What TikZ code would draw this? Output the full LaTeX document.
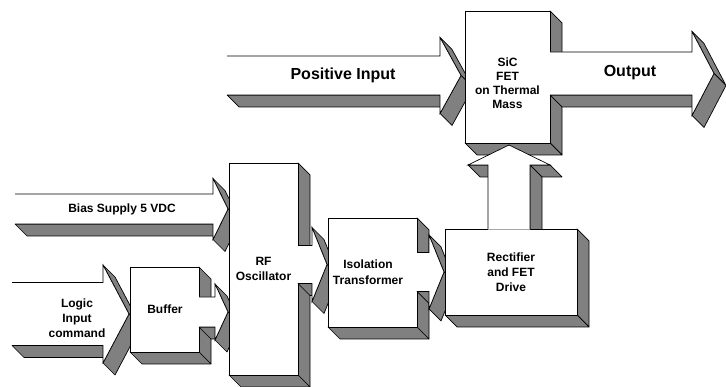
\documentclass[tikz,border=0pt]{standalone}
\usepackage{fontspec}
\setmainfont{Liberation Sans}
\usepackage{xcolor}
\usepackage{tikz}
\usetikzlibrary{calc}

\definecolor{facegray}{RGB}{128,128,128}

\tikzset{
  face/.style={draw=black,fill=facegray,line width=0.7pt,line join=round},
  rim/.style={draw=black,line width=0.7pt,line join=miter},
  lbl/.style={font=\bfseries\fontsize{12}{15}\selectfont,align=center,inner sep=0pt},
  biglbl/.style={font=\bfseries\fontsize{16}{19}\selectfont,inner sep=0pt}
}

\begin{document}
\begin{tikzpicture}[x=1pt,y=-1pt]
  \def\dd{12}
  % box: x1,y1,x2,y2
  \def\blockbox#1#2#3#4{%
    \draw[face] (#3,#2)--({#3+\dd},{#2+\dd})--({#3+\dd},{#4+\dd})--(#3,#4)--cycle;
    \draw[face] (#1,#4)--(#3,#4)--({#3+\dd},{#4+\dd})--({#1+\dd},{#4+\dd})--cycle;
    \draw[rim,fill=white] (#1,#2) rectangle (#3,#4);}
  % arrow to the right: left end, barb, tip, centre, body half, head half
  \def\blockarrow#1#2#3#4#5#6{%
    \draw[face] (#1,{#4+#5})--(#2,{#4+#5})--({#2+\dd},{#4+#5+\dd})--({#1+\dd},{#4+#5+\dd})--cycle;
    \draw[face] (#2,{#4-#6})--(#3,#4)--({#3+\dd},{#4+\dd})--({#2+\dd},{#4-#6+\dd})--cycle;
    \draw[face] (#3,#4)--(#2,{#4+#6})--({#2+\dd},{#4+#6+\dd})--({#3+\dd},{#4+\dd})--cycle;
    \fill[white] ({#1-0.6},{#4-#5})--(#2,{#4-#5})--(#2,{#4-#6})--(#3,#4)--(#2,{#4+#6})--(#2,{#4+#5})--({#1-0.6},{#4+#5})--cycle;
    \draw[rim] (#1,{#4-#5})--(#2,{#4-#5})--(#2,{#4-#6})--(#3,#4)--(#2,{#4+#6})--(#2,{#4+#5})--(#1,{#4+#5});}
  % arrow upwards: centre, base, barb, tip, body half, head half
  \def\upfaces#1#2#3#4#5#6{%
    \draw[face] ({#1+#5},#3)--({#1+#5+\dd},{#3+\dd})--({#1+#5+\dd},{#2+\dd})--({#1+#5},#2)--cycle;
    \draw[face] ({#1-#6},#3)--({#1-#5},#3)--({#1-#5+\dd},{#3+\dd})--({#1-#6+\dd},{#3+\dd})--cycle;
    \draw[face] ({#1+#5},#3)--({#1+#6},#3)--({#1+#6+\dd},{#3+\dd})--({#1+#5+\dd},{#3+\dd})--cycle;}
  \def\upfront#1#2#3#4#5#6{%
    \fill[white] ({#1-#5},{#2+0.6})--({#1-#5},#3)--({#1-#6},#3)--(#1,#4)--({#1+#6},#3)--({#1+#5},#3)--({#1+#5},{#2+0.6})--cycle;
    \draw[rim] ({#1-#5},#2)--({#1-#5},#3)--({#1-#6},#3)--(#1,#4)--({#1+#6},#3)--({#1+#5},#3)--({#1+#5},#2);}

  \useasboundingbox (0,0) rectangle (726,387);

  % inputs
  \blockarrow{227}{440}{461}{75.5}{19.5}{38}
  \blockarrow{15}{213}{228}{209}{15}{30.5}
  \blockarrow{12}{103}{129}{314}{31.5}{49}

  % FET and output
  \blockbox{465}{11}{550}{143}
  \blockarrow{550}{692}{714}{73.5}{21.5}{42}

  % drive chain
  \blockbox{130}{267}{199}{352}
  \blockarrow{199}{215}{228}{312}{15}{28}
  \blockbox{229}{163}{298}{375}
  \blockarrow{298}{312}{327}{264.5}{19}{37}
  \blockbox{328}{218}{417}{327}
  \blockarrow{417}{429}{444}{272}{19.5}{37}
  \upfaces{509}{229}{165}{145}{21}{41}
  \blockbox{445}{229}{577}{315}
  \upfront{509}{229}{165}{145}{21}{41}

  \node[biglbl] (posin) at (343,75) {Positive Input};
  \node[biglbl] (outp) at (630,73) {Output};
  \node[lbl,font=\bfseries\fontsize{12}{14}\selectfont] (sic) at (507.5,83) {SiC\\FET\\on Thermal\\Mass};
  \node[lbl] (bias) at (122,209) {Bias Supply 5 VDC};
  \node[lbl] (logic) at (77,318) {Logic\\Input\\command};
  \node[lbl] (buf) at (165,309) {Buffer};
  \node[lbl] (osc) at (263.5,269) {RF\\Oscillator};
  \node[lbl,font=\bfseries\fontsize{12}{16}\selectfont] (iso) at (368,272) {Isolation\\Transformer};
  \node[lbl] (rect) at (511,272) {Rectifier\\and FET\\Drive};
\end{tikzpicture}
\end{document}
